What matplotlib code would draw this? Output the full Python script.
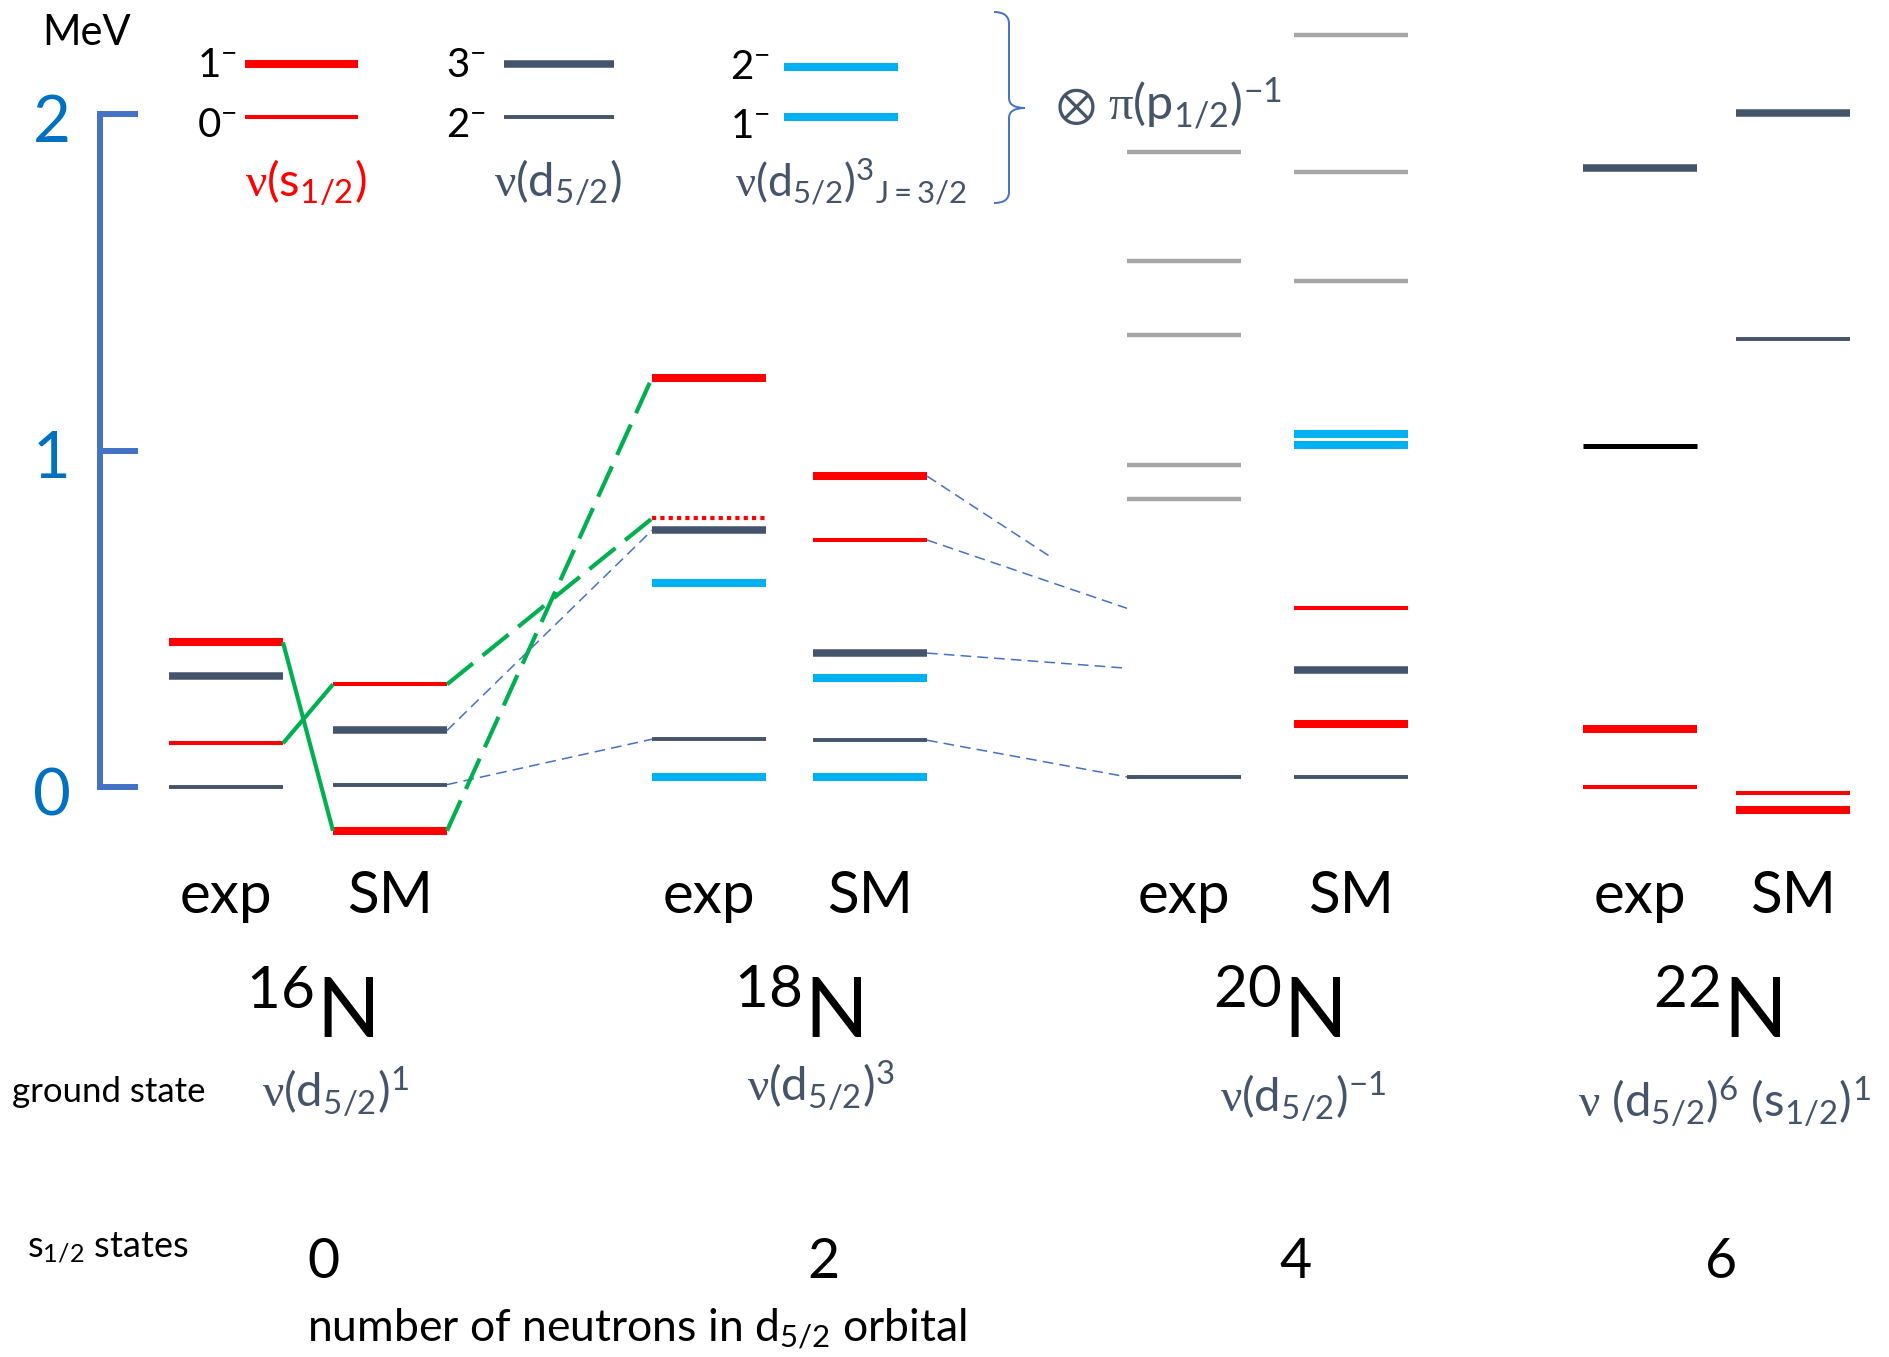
import matplotlib
matplotlib.use('Agg')
import matplotlib.pyplot as plt
import matplotlib.transforms as mtransforms
from matplotlib.path import Path
from matplotlib.patches import PathPatch

plt.rcParams['font.family'] = ['Lato', 'DejaVu Sans']
plt.rcParams['mathtext.fontset'] = 'custom'
plt.rcParams['mathtext.rm'] = 'Lato'
plt.rcParams['mathtext.it'] = 'Lato:italic'
plt.rcParams['mathtext.bf'] = 'Lato:bold'
plt.rcParams['mathtext.sf'] = 'Liberation Serif'
plt.rcParams['mathtext.fallback'] = 'stix'

# ---------------- data (energies in MeV) ----------------
nuclei = ['16', '18', '20', '22']
calcs = ['exp', 'SM']
NU = r'$\mathsf{\nu}$'
ground_configs = [NU + r'(d$_{5/2}$)$^{1}$',
                  NU + r'(d$_{5/2}$)$^{3}$',
                  NU + r'(d$_{5/2}$)$^{-1}$',
                  NU + r' (d$_{5/2}$)$^{6}$ (s$_{1/2}$)$^{1}$']
s12_states = ['0', '2', '4', '6']
yticks = [0, 1, 2]

# level kinds: s1 = nu(s1/2) 1-, s0 = nu(s1/2) 0-, s0t = tentative 0-,
# d3 = nu(d5/2) 3-, d2 = nu(d5/2) 2-, c2 / c1 = nu(d5/2)^3 2- / 1-,
# x = other, u = unassigned
n16_exp_E = [0.43, 0.33, 0.13, 0.00]
n16_exp_kind = ['s1', 'd3', 's0', 'd2']
n16_sm_E = [0.305, 0.168, 0.007, -0.13]
n16_sm_kind = ['s0', 'd3', 'd2', 's1']

n18_exp_E = [1.216, 0.798, 0.763, 0.606, 0.142, 0.031]
n18_exp_kind = ['s1', 's0t', 'd3', 'c2', 'd2', 'c1']
n18_sm_E = [0.924, 0.734, 0.398, 0.324, 0.139, 0.031]
n18_sm_kind = ['s1', 's0', 'd3', 'c2', 'd2', 'c1']

n20_exp_E = [1.886, 1.564, 1.344, 0.956, 0.857, 0.03]
n20_exp_kind = ['x', 'x', 'x', 'x', 'x', 'd2']
n20_sm_E = [2.235, 1.829, 1.503, 1.048, 1.016, 0.531, 0.348, 0.188, 0.03]
n20_sm_kind = ['x', 'x', 'x', 'c2', 'c1', 's0', 'd3', 's1', 'd2']

n22_exp_E = [1.84, 1.014, 0.173, 0.0]
n22_exp_kind = ['d3', 'u', 's1', 's0']
n22_sm_E = [2.003, 1.33, -0.019, -0.068]
n22_sm_kind = ['d3', 'd2', 's0', 's1']

# connections between columns: (from column, E_from, to column, E_to)
green_solid = [(('16', 'exp'), n16_exp_E[0], ('16', 'SM'), n16_sm_E[3]),
               (('16', 'exp'), n16_exp_E[2], ('16', 'SM'), n16_sm_E[0])]
green_dashed = [(('16', 'SM'), n16_sm_E[0], ('18', 'exp'), n18_exp_E[1]),
                (('16', 'SM'), n16_sm_E[3], ('18', 'exp'), n18_exp_E[0])]
blue_dashed = [(('16', 'SM'), n16_sm_E[1], ('18', 'exp'), n18_exp_E[2]),
               (('16', 'SM'), n16_sm_E[2], ('18', 'exp'), n18_exp_E[4]),
               (('18', 'SM'), n18_sm_E[0], ('20', 'exp'), 0.687),
               (('18', 'SM'), n18_sm_E[1], ('20', 'exp'), 0.531),
               (('18', 'SM'), n18_sm_E[2], ('20', 'exp'), 0.353),
               (('18', 'SM'), n18_sm_E[4], ('20', 'exp'), n20_exp_E[5])]

levels = {
    ('16', 'exp'): (n16_exp_E, n16_exp_kind), ('16', 'SM'): (n16_sm_E, n16_sm_kind),
    ('18', 'exp'): (n18_exp_E, n18_exp_kind), ('18', 'SM'): (n18_sm_E, n18_sm_kind),
    ('20', 'exp'): (n20_exp_E, n20_exp_kind), ('20', 'SM'): (n20_sm_E, n20_sm_kind),
    ('22', 'exp'): (n22_exp_E, n22_exp_kind), ('22', 'SM'): (n22_sm_E, n22_sm_kind),
}

# ---------------- layout / style ----------------
W, H = 1890, 1357
Y0_PX, PX_PER_MEV = 787.0, 336.5
col_left = {('16', 'exp'): 169, ('16', 'SM'): 333, ('18', 'exp'): 652, ('18', 'SM'): 813,
            ('20', 'exp'): 1127, ('20', 'SM'): 1294, ('22', 'exp'): 1583, ('22', 'SM'): 1736}
BAR_W = 114
partial_frac = {2: 0.61}   # third blue connector stops mid-gap

RED, DARK, CYAN, GRAY = '#FF0000', '#44546A', '#00B0F0', '#A6A6A6'
GREEN, BLUE, TBLUE = '#00B050', '#4472C4', '#0070C0'
STY = {
    's1': dict(color=RED, lw=5.8, ls='-'),
    's0': dict(color=RED, lw=2.9, ls='-'),
    's0t': dict(color=RED, lw=3.0, ls=(0, (1, 1))),
    'd3': dict(color=DARK, lw=5.4, ls='-'),
    'd2': dict(color=DARK, lw=2.8, ls='-'),
    'c2': dict(color=CYAN, lw=5.8, ls='-'),
    'c1': dict(color=CYAN, lw=5.8, ls='-'),
    'x': dict(color=GRAY, lw=3.2, ls='-'),
    'u': dict(color='black', lw=3.6, ls='-'),
}

fig = plt.figure(figsize=(W / 100, H / 100), dpi=100)
ax = fig.add_axes([0, 0, 1, 1])
ax.set_xlim(0, W)
ax.set_ylim((Y0_PX - H) / PX_PER_MEV, Y0_PX / PX_PER_MEV)
ax.patch.set_alpha(0)
for s in ['top', 'right', 'bottom']:
    ax.spines[s].set_visible(False)
ax.set_xticks([])
# energy scale bracket = left spine
ax.spines['left'].set_position(('data', 100))
ax.spines['left'].set_bounds(0, 2)
ax.spines['left'].set_linewidth(4.3)
ax.spines['left'].set_color(BLUE)
ax.set_yticks(yticks)
ax.tick_params(axis='y', direction='in', length=27, width=4.3, color=BLUE,
               labelcolor=TBLUE, labelsize=47, pad=21)
for lab in ax.get_yticklabels():
    lab.set_transform(lab.get_transform() + mtransforms.Affine2D().translate(0, -4))

# pixel transform (origin top-left) for annotations
pix = mtransforms.Affine2D().scale(1 / W, -1 / H).translate(0, 1) + fig.transFigure

# levels
for key, (Es, kinds) in levels.items():
    xl = col_left[key]
    for E, k in zip(Es, kinds):
        st = STY[k]
        ax.plot([xl, xl + BAR_W], [E, E], color=st['color'], lw=st['lw'],
                linestyle=st['ls'], solid_capstyle='butt', dash_capstyle='butt', zorder=3)


def connect(lst, color, lw, ls, z, partial=None):
    partial = partial or {}
    for i, (c1, e1, c2, e2) in enumerate(lst):
        x1 = col_left[c1] + BAR_W
        x2 = col_left[c2]
        if i in partial:
            x2 = x1 + partial[i] * (x2 - x1)
        ax.plot([x1, x2], [e1, e2], color=color, lw=lw, linestyle=ls,
                solid_capstyle='butt', zorder=z)


connect(blue_dashed, BLUE, 1.1, (0, (7, 4)), 2, partial_frac)
connect(green_solid, GREEN, 3.0, '-', 4)
connect(green_dashed, GREEN, 3.0, (0, (8, 3)), 4)

# legend
leg_rows = [
    (197, 245, 358, [('1$^{-}$', 's1', 64, 77), ('0$^{-}$', 's0', 117, 137)]),
    (446, 504, 614, [('3$^{-}$', 'd3', 64, 77), ('2$^{-}$', 'd2', 117, 137)]),
    (730, 784, 898, [('2$^{-}$', 'c2', 67, 79), ('1$^{-}$', 'c1', 117, 138)]),
]
for xt, xa, xb, rows in leg_rows:
    for lab, k, yl, yb in rows:
        st = STY[k]
        ax.plot([xa, xb], [yl, yl], transform=pix, color=st['color'], lw=st['lw'],
                solid_capstyle='butt')
        ax.text(xt, yb, lab, transform=pix, fontsize=29, ha='left', va='baseline')
ax.text(245, 197, NU + r'(s$_{1/2}$)', transform=pix, fontsize=34, color=RED,
        ha='left', va='baseline')
ax.text(494, 197, NU + r'(d$_{5/2}$)', transform=pix, fontsize=34, color=DARK,
        ha='left', va='baseline')
ax.text(735, 197, NU + r'(d$_{5/2}$)$^{3}{}_{\mathrm{J=3/2}}$', transform=pix,
        fontsize=32, color=DARK, ha='left', va='baseline')
ax.text(42, 45, 'MeV', transform=pix, fontsize=30, ha='left', va='baseline')

# curly brace
verts = [(994, 12), (1009, 12), (1009, 24), (1009, 98), (1009, 108), (1025, 108),
         (1009, 108), (1009, 118), (1009, 192), (1009, 203), (994, 203)]
codes = [Path.MOVETO, Path.CURVE3, Path.CURVE3, Path.LINETO, Path.CURVE3, Path.CURVE3,
         Path.CURVE3, Path.CURVE3, Path.LINETO, Path.CURVE3, Path.CURVE3]
ax.add_patch(PathPatch(Path(verts, codes), transform=pix, fill=False, edgecolor=BLUE, lw=1.4))
ax.text(1055, 121, r'$\otimes$ $\mathsf{\pi}$(p$_{1/2}$)$^{-1}$', transform=pix, fontsize=35,
        color=DARK, ha='left', va='baseline')

# bottom labels
for n in nuclei:
    for c in calcs:
        xc = col_left[(n, c)] + BAR_W / 2
        ax.text(xc, 913, c, transform=pix, fontsize=42, ha='center', va='baseline')
nuc_x = [310, 798, 1277, 1717]
cfg_x = [262, 747, 1220, 1578]
cfg_y = [1107, 1101, 1112, 1117]
num_x = [323, 823, 1296, 1721]
for n, xn, cfg, xc, yc, s, xs in zip(nuclei, nuc_x, ground_configs, cfg_x, cfg_y,
                                      s12_states, num_x):
    ax.text(xn, 1038, '$^{%s}$N' % n, transform=pix, fontsize=60, ha='center', va='baseline')
    ax.text(xc, yc, cfg, transform=pix, fontsize=34, color=DARK, ha='left', va='baseline')
    ax.text(xs, 1278, s, transform=pix, fontsize=40, ha='center', va='baseline')
ax.text(12, 1102, 'ground state', transform=pix, fontsize=25, ha='left', va='baseline')
ax.text(27, 1257, 's$_{1/2}$ states', transform=pix, fontsize=26, ha='left', va='baseline')
ax.text(307, 1342, 'number of neutrons in d$_{5/2}$ orbital', transform=pix, fontsize=32,
        ha='left', va='baseline')

fig.savefig('out.png', dpi=100, facecolor='white')
